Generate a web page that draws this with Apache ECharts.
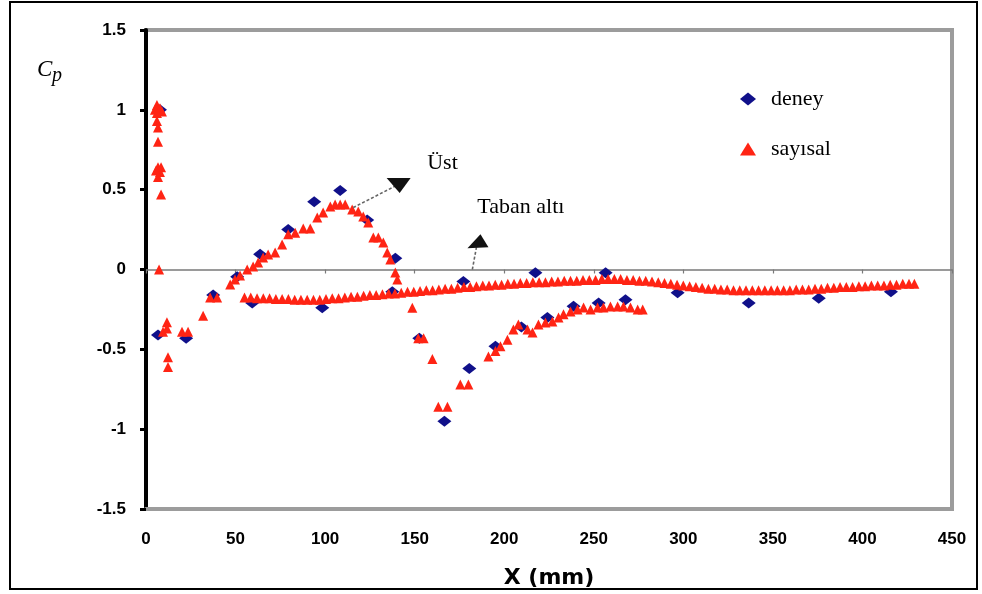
<!DOCTYPE html>
<html>
<head>
<meta charset="utf-8">
<script src="https://cdn.jsdelivr.net/npm/echarts@6/dist/echarts.min.js"></script>
<style>
  html, body { margin: 0; padding: 0; background: #ffffff; }
  #chart { width: 982px; height: 594px; }
</style>
</head>
<body>
<div id="chart"></div>
<script>
// Pressure coefficient Cp along the body, X in mm
const deneyPoints = [
  [7.8, 1.0], [6.7, -0.41], [22.4, -0.43], [37.5, -0.16], [50.9, -0.045],
  [59.3, -0.21], [63.7, 0.095], [79.4, 0.25], [93.9, 0.425], [98.4, -0.24],
  [108.4, 0.495], [123.5, 0.31], [137.5, -0.14], [139.2, 0.07], [152.6, -0.43],
  [166.6, -0.95], [177.2, -0.075], [180.5, -0.62], [195.1, -0.48], [209.6, -0.36],
  [217.4, -0.02], [224.1, -0.30], [238.7, -0.23], [252.7, -0.21], [256.6, -0.02],
  [267.7, -0.19], [296.8, -0.145], [336.5, -0.21], [375.6, -0.18], [415.9, -0.14]
];

// numerical results: nose region
const sayisalNose = [
  [5.0, 1.0], [6.1, 1.03], [7.8, 1.01], [8.9, 0.99], [6.1, 0.98], [6.1, 0.93],
  [6.7, 0.89], [6.7, 0.80], [6.7, 0.64], [8.4, 0.64], [7.8, 0.61], [5.6, 0.62],
  [6.7, 0.58], [8.4, 0.47], [7.3, 0.0], [9.5, -0.39], [11.7, -0.33], [11.7, -0.37],
  [12.3, -0.55], [12.3, -0.61], [20.1, -0.39], [23.5, -0.39], [31.9, -0.29],
  [35.8, -0.175], [39.7, -0.175]
];

// numerical results: upper surface hump
const sayisalHump = [
  [47, -0.094], [49.7, -0.063], [52.5, -0.038], [56.5, 0.0], [59.8, 0.019],
  [62.6, 0.044], [65.4, 0.075], [68.2, 0.094], [72.1, 0.106], [76, 0.157],
  [79.4, 0.22], [83.3, 0.23], [87.8, 0.257], [91.7, 0.257], [95.6, 0.326],
  [98.9, 0.357], [102.9, 0.394], [105.6, 0.407], [108.4, 0.407], [111.2, 0.407],
  [115.1, 0.376], [118.5, 0.363], [121.3, 0.332], [124.1, 0.294], [126.9, 0.2],
  [129.7, 0.2], [132.5, 0.169], [134.7, 0.106], [136.4, 0.063], [139.2, -0.019],
  [140.3, -0.063]
];

// numerical results: suction dip and recovery
const sayisalDip = [
  [148.7, -0.24], [152, -0.43], [155, -0.43], [159.9, -0.56], [163.2, -0.86],
  [168.3, -0.86], [175.5, -0.72], [180, -0.72], [191.2, -0.545], [195.1, -0.51],
  [197.9, -0.48], [201.8, -0.44], [205.1, -0.376], [207.9, -0.344], [213, -0.376],
  [215.8, -0.394], [219.1, -0.344], [223, -0.332], [226.9, -0.326], [230.3, -0.3],
  [233.1, -0.28], [237, -0.263], [240.9, -0.25], [244.3, -0.238], [248.2, -0.25],
  [252.1, -0.238], [255.4, -0.238], [259.3, -0.232], [263.3, -0.232], [266.6, -0.232],
  [270.5, -0.238], [274.5, -0.25], [277.3, -0.25]
];

// numerical results: long lower-surface run
const sayisalFlat = [
  [55, -0.175], [58.5, -0.175], [62, -0.18], [65.5, -0.18], [69, -0.18], [72.5, -0.185],
  [76, -0.185], [79.5, -0.185], [83, -0.19], [86.5, -0.19], [90, -0.19], [93.5, -0.19],
  [97, -0.19], [100.5, -0.185], [104, -0.18], [107.5, -0.18], [111, -0.175], [114.5, -0.17],
  [118, -0.17], [121.5, -0.165], [125, -0.16], [128.5, -0.16], [132, -0.155], [135.5, -0.15],
  [139, -0.15], [142.5, -0.145], [146, -0.14], [149.5, -0.14], [153, -0.135], [156.5, -0.13],
  [160, -0.13], [163.5, -0.125], [167, -0.12], [170.5, -0.12], [174, -0.115], [177.5, -0.11],
  [181, -0.11], [184.5, -0.105], [188, -0.1], [191.5, -0.1], [195, -0.095], [198.5, -0.095],
  [202, -0.09], [205.5, -0.09], [209, -0.085], [212.5, -0.085], [216, -0.08], [219.5, -0.08],
  [223, -0.08], [226.5, -0.075], [230, -0.075], [233.5, -0.07], [237, -0.07], [240.5, -0.07],
  [244, -0.065], [247.5, -0.065], [251, -0.065], [254.5, -0.06], [258, -0.06], [261.5, -0.06],
  [265, -0.06], [268.5, -0.065], [272, -0.065], [275.5, -0.07], [279, -0.07], [282.5, -0.075],
  [286, -0.08], [289.5, -0.085], [293, -0.09], [296.5, -0.095], [300, -0.1], [303.5, -0.105],
  [307, -0.11], [310.5, -0.115], [314, -0.12], [317.5, -0.12], [321, -0.125], [324.5, -0.125],
  [328, -0.13], [331.5, -0.13], [335, -0.13], [338.5, -0.13], [342, -0.13], [345.5, -0.13],
  [349, -0.13], [352.5, -0.13], [356, -0.13], [359.5, -0.13], [363, -0.125], [366.5, -0.125],
  [370, -0.125], [373.5, -0.12], [377, -0.12], [380.5, -0.115], [384, -0.115], [387.5, -0.11],
  [391, -0.11], [394.5, -0.11], [398, -0.105], [401.5, -0.105], [405, -0.1], [408.5, -0.1],
  [412, -0.1], [415.5, -0.095], [419, -0.095], [422.5, -0.09], [426, -0.09], [429, -0.09]
];

const seriesNames = ['deney', 'sayısal'];
const xRange = [0, 450, 50];
const yRange = [-1.5, 1.5, 0.5];

// annotation anchors in data units
const ustLabel = { text: 'Üst', at: [157, 0.664], from: [115.7, 0.388], to: [140.5, 0.53] };
const tabanLabel = { text: 'Taban altı', at: [185, 0.388], from: [182.2, 0.0], to: [184.5, 0.14] };

const chart = echarts.init(document.getElementById('chart'), null, { renderer: 'canvas' });

const tickFont = { fontFamily: 'Liberation Sans', fontWeight: 'bold', fontSize: 17, color: '#000' };

chart.setOption({
  animation: false,
  backgroundColor: '#ffffff',
  grid: {
    left: 146, right: 30, top: 30, bottom: 85,
    show: true, borderColor: '#9c9c9c', borderWidth: 4, backgroundColor: 'transparent'
  },
  legend: {
    orient: 'vertical',
    left: 735, top: 83,
    itemWidth: 16, itemHeight: 13,
    itemGap: 28,
    textStyle: { fontFamily: 'Liberation Serif', fontSize: 22, color: '#000', padding: [0, 0, 0, 10] },
    data: seriesNames
  },
  xAxis: [
    {
      type: 'value', min: xRange[0], max: xRange[1], interval: xRange[2],
      position: 'bottom',
      axisLine: { onZero: false, lineStyle: { color: '#9c9c9c', width: 4 } },
      axisTick: { show: false },
      splitLine: { show: false },
      axisLabel: Object.assign({ margin: 22, fontSize: 15 }, tickFont),
      name: 'X (mm)', nameLocation: 'middle', nameGap: 58,
      nameTextStyle: { fontFamily: 'DejaVu Sans', fontWeight: 'bold', fontSize: 22, color: '#000' }
    },
    {
      type: 'value', min: xRange[0], max: xRange[1], interval: xRange[2],
      position: 'bottom',
      axisLine: { onZero: true, onZeroAxisIndex: 0, lineStyle: { color: '#7a7a7a', width: 1.5 } },
      axisTick: { show: true, length: 4, lineStyle: { color: '#7a7a7a', width: 1.2 } },
      axisLabel: { show: false },
      splitLine: { show: false }
    }
  ],
  yAxis: {
    type: 'value', min: yRange[0], max: yRange[1], interval: yRange[2],
    axisLine: { show: true, onZero: false, lineStyle: { color: '#000', width: 4 } },
    axisTick: { show: true, length: 6, lineStyle: { color: '#000', width: 3 } },
    splitLine: { show: false },
    axisLabel: Object.assign({ margin: 20 }, tickFont)
  },
  series: [
    {
      name: seriesNames[0], type: 'scatter', xAxisIndex: 0,
      symbol: 'diamond', symbolSize: [14, 11],
      itemStyle: { color: '#10108a', opacity: 1 },
      data: deneyPoints, z: 3
    },
    {
      name: seriesNames[1], type: 'scatter', xAxisIndex: 0,
      symbol: 'triangle', symbolSize: [10, 10],
      itemStyle: { color: '#ff2414', opacity: 1 },
      data: sayisalNose.concat(sayisalHump, sayisalDip, sayisalFlat), z: 4
    }
  ]
});

// Annotations, placed from their data-space anchors
function px(p) { return chart.convertToPixel({ gridIndex: 0 }, p); }
function arrow(a, head) {
  const s = px(a.from), e = px(a.to), t = px(a.at);
  return [
    { type: 'line', shape: { x1: s[0], y1: s[1], x2: e[0], y2: e[1] },
      style: { stroke: '#666', lineWidth: 1.6, lineDash: [3, 2] }, z: 10 },
    { type: 'polygon', shape: { points: head.map(h => [e[0] + h[0], e[1] + h[1]]) },
      style: { fill: '#111' }, z: 10 },
    { type: 'text', x: t[0], y: t[1],
      style: { text: a.text, fontFamily: 'Liberation Serif', fontSize: 22, fill: '#000',
               verticalAlign: 'middle' }, z: 10 }
  ];
}

chart.setOption({
  graphic: [
    { type: 'rect', shape: { x: 10, y: 2, width: 967, height: 587 },
      style: { fill: 'none', stroke: '#000', lineWidth: 2 } },
    { type: 'text', x: 37, y: 58,
      style: { text: 'C', fontFamily: 'Liberation Serif', fontStyle: 'italic', fontSize: 23, fill: '#000' } },
    { type: 'text', x: 52, y: 66,
      style: { text: 'p', fontFamily: 'Liberation Serif', fontStyle: 'italic', fontSize: 20, fill: '#000' } }
  ].concat(
    arrow(ustLabel, [[-11, -7], [13, -7], [2, 8]]),
    arrow(tabanLabel, [[-9, 1], [12, 0], [4, -13]])
  )
});
</script>
</body>
</html>
